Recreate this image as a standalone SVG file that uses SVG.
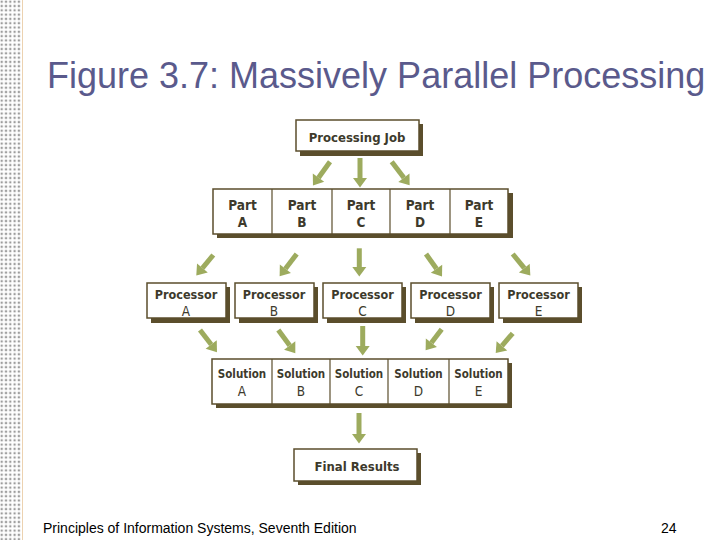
<svg xmlns="http://www.w3.org/2000/svg" width="720" height="540" viewBox="0 0 720 540">
<style>
.box{fill:#ffffff;stroke:#5b4e2c;stroke-width:1.5}
.shadow{fill:#5b4e2c}
.div{stroke:#5b4e2c;stroke-width:1.2}
.lbl{font-family:"DejaVu Sans Condensed","DejaVu Sans",sans-serif;font-weight:bold;fill:#3d3a2c;text-anchor:middle}
.lt{font-weight:normal;font-size:13.5px}
.arrow{stroke:#9dab5e;stroke-width:5;fill:none;marker-end:url(#head)}
.title{font-family:"Liberation Sans",Arial,sans-serif;font-size:36px;fill:#5a5a8c}
.foot{font-family:"Liberation Sans",Arial,sans-serif;font-size:14px;fill:#000000}
</style>
<defs>
<pattern id="dots" width="4.3" height="4.3" patternUnits="userSpaceOnUse">
<rect x="0.6" y="0.6" width="2.2" height="2.2" fill="#9c9c9c"/>
</pattern>
<marker id="head" markerUnits="userSpaceOnUse" markerWidth="10" markerHeight="14" refX="0" refY="7" orient="auto" overflow="visible">
<path d="M0,0 L9.5,7 L0,14 Z" fill="#9dab5e"/>
</marker>
</defs>
<rect width="720" height="540" fill="#ffffff"/>
<rect x="0" y="0" width="21" height="540" fill="url(#dots)"/>
<line x1="22.5" y1="0" x2="22.5" y2="540" stroke="#ecd2b0" stroke-width="1"/>
<text class="title" x="47" y="88">Figure 3.7: Massively Parallel Processing</text>

<g id="job">
<rect class="shadow" x="300" y="124" width="123" height="32"/>
<rect class="box" x="296" y="120" width="123" height="31"/>
<text class="lbl" x="357" y="142" font-size="13">Processing Job</text>
</g>

<g id="parts">
<rect class="shadow" x="217" y="193" width="296" height="45"/>
<rect class="box" x="213" y="189" width="295" height="45"/>
<line class="div" x1="272" y1="189" x2="272" y2="234"/>
<line class="div" x1="332" y1="189" x2="332" y2="234"/>
<line class="div" x1="390" y1="189" x2="390" y2="234"/>
<line class="div" x1="450" y1="189" x2="450" y2="234"/>
<text class="lbl" font-size="13.5"><tspan x="242.5" y="210">Part</tspan><tspan x="242.5" y="227">A</tspan></text>
<text class="lbl" font-size="13.5"><tspan x="302" y="210">Part</tspan><tspan x="302" y="227">B</tspan></text>
<text class="lbl" font-size="13.5"><tspan x="361" y="210">Part</tspan><tspan x="361" y="227">C</tspan></text>
<text class="lbl" font-size="13.5"><tspan x="420" y="210">Part</tspan><tspan x="420" y="227">D</tspan></text>
<text class="lbl" font-size="13.5"><tspan x="479" y="210">Part</tspan><tspan x="479" y="227">E</tspan></text>
</g>

<g id="procA">
<rect class="shadow" x="151" y="287" width="79" height="36"/>
<rect class="box" x="147" y="283" width="79" height="35"/>
<text class="lbl" font-size="12.5"><tspan x="186" y="299">Processor</tspan><tspan class="lt" x="186" y="316">A</tspan></text>
</g>
<g id="procB">
<rect class="shadow" x="239" y="287" width="79" height="36"/>
<rect class="box" x="235" y="283" width="79" height="35"/>
<text class="lbl" font-size="12.5"><tspan x="274" y="299">Processor</tspan><tspan class="lt" x="274" y="316">B</tspan></text>
</g>
<g id="procC">
<rect class="shadow" x="327" y="287" width="79" height="36"/>
<rect class="box" x="323" y="283" width="79" height="35"/>
<text class="lbl" font-size="12.5"><tspan x="362.5" y="299">Processor</tspan><tspan class="lt" x="362.5" y="316">C</tspan></text>
</g>
<g id="procD">
<rect class="shadow" x="415" y="287" width="79" height="36"/>
<rect class="box" x="411" y="283" width="79" height="35"/>
<text class="lbl" font-size="12.5"><tspan x="450.5" y="299">Processor</tspan><tspan class="lt" x="450.5" y="316">D</tspan></text>
</g>
<g id="procE">
<rect class="shadow" x="503" y="287" width="79" height="36"/>
<rect class="box" x="499" y="283" width="79" height="35"/>
<text class="lbl" font-size="12.5"><tspan x="538.5" y="299">Processor</tspan><tspan class="lt" x="538.5" y="316">E</tspan></text>
</g>

<g id="solutions">
<rect class="shadow" x="216" y="363" width="296" height="45"/>
<rect class="box" x="212" y="359" width="296" height="45"/>
<line class="div" x1="272" y1="359" x2="272" y2="404"/>
<line class="div" x1="330" y1="359" x2="330" y2="404"/>
<line class="div" x1="388" y1="359" x2="388" y2="404"/>
<line class="div" x1="449" y1="359" x2="449" y2="404"/>
<text class="lbl" font-size="11.5"><tspan x="242" y="378">Solution</tspan><tspan class="lt" x="242" y="396">A</tspan></text>
<text class="lbl" font-size="11.5"><tspan x="301" y="378">Solution</tspan><tspan class="lt" x="301" y="396">B</tspan></text>
<text class="lbl" font-size="11.5"><tspan x="359" y="378">Solution</tspan><tspan class="lt" x="359" y="396">C</tspan></text>
<text class="lbl" font-size="11.5"><tspan x="418.5" y="378">Solution</tspan><tspan class="lt" x="418.5" y="396">D</tspan></text>
<text class="lbl" font-size="11.5"><tspan x="478.5" y="378">Solution</tspan><tspan class="lt" x="478.5" y="396">E</tspan></text>
</g>

<g id="final">
<rect class="shadow" x="298" y="453" width="123" height="32"/>
<rect class="box" x="294" y="449" width="123" height="32"/>
<text class="lbl" x="357" y="471" font-size="13">Final Results</text>
</g>

<g id="connectors">
<line class="arrow" x1="330" y1="161.7" x2="318.5" y2="177.7"/>
<line class="arrow" x1="360" y1="158" x2="360" y2="178"/>
<line class="arrow" x1="391.7" y1="161.7" x2="403.9" y2="177.8"/>
<line class="arrow" x1="213.3" y1="255" x2="202.4" y2="268.1"/>
<line class="arrow" x1="296.7" y1="254" x2="285.4" y2="268.8"/>
<line class="arrow" x1="359.3" y1="248.3" x2="359.3" y2="267"/>
<line class="arrow" x1="426" y1="254" x2="436.5" y2="268.7"/>
<line class="arrow" x1="512.7" y1="254" x2="524.3" y2="268.1"/>
<line class="arrow" x1="200" y1="330" x2="211.2" y2="344.6"/>
<line class="arrow" x1="278.3" y1="330" x2="289.7" y2="345.5"/>
<line class="arrow" x1="362.7" y1="326" x2="362.7" y2="346"/>
<line class="arrow" x1="441.7" y1="329.3" x2="431.4" y2="342.8"/>
<line class="arrow" x1="512.7" y1="333.3" x2="501.9" y2="345.9"/>
<line class="arrow" x1="359" y1="413" x2="359" y2="434"/>
</g>

<text class="foot" x="43" y="533">Principles of Information Systems, Seventh Edition</text>
<text class="foot" x="661" y="533">24</text>
</svg>
